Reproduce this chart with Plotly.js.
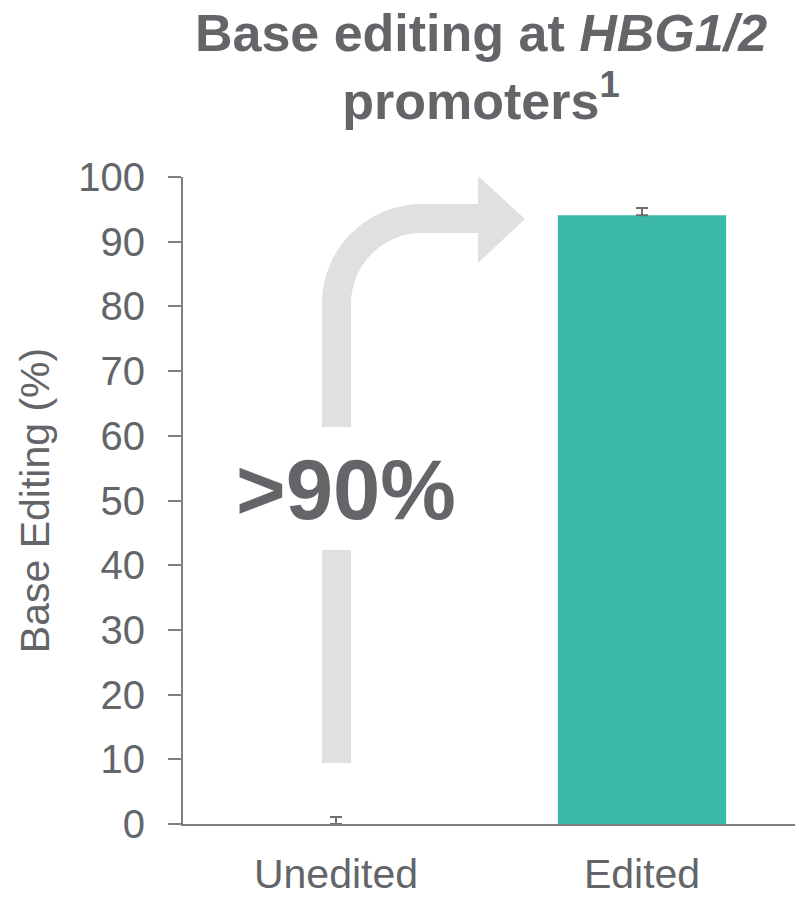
<!DOCTYPE html>
<html>
<head>
<meta charset="utf-8">
<script src="https://cdn.plot.ly/plotly-3.0.1.min.js"></script>
<style>html,body{margin:0;padding:0;background:#fff;}#chart{width:799px;height:899px;}</style>
</head>
<body>
<div id="chart"></div>
<script>
// ---- data ----
var categories = ["Unedited", "Edited"];
var editingPct = [0, 94.1];
var errorUp = [1.1, 1.1];
var yTickVals = [0, 10, 20, 30, 40, 50, 60, 70, 80, 90, 100];
var yTickText = ["0", "10", "20", "30", "40", "50", "60", "70", "80", "90", "100"];
var calloutText = ">90%";

// ---- layout geometry (pixels) ----
var W = 799, H = 899;
var M = {l: 183, r: 4, t: 177, b: 75};
var plotW = W - M.l - M.r, plotH = H - M.t - M.b;
function px(x) { return (x - M.l) / plotW; }
function py(y) { return (H - M.b - y) / plotH; }
function P(x, y) { return px(x).toFixed(5) + "," + py(y).toFixed(5); }

// decorative bent arrow (upper part with curve and head)
var k = 0.5523;
var cx = 422, cy = 304, rO = 100, rI = 71;
var upperPath = "M" + P(322, 427) +
  " L" + P(322, cy) +
  " C" + P(322, cy - rO * k) + " " + P(cx - rO * k, cy - rO) + " " + P(cx, cy - rO) +
  " L" + P(478, cy - rO) +
  " L" + P(478, 176) +
  " L" + P(525, 219) +
  " L" + P(478, 263) +
  " L" + P(478, cy - rI) +
  " L" + P(cx, cy - rI) +
  " C" + P(cx - rI * k, cy - rI) + " " + P(351, cy - rI * k) + " " + P(351, cy) +
  " L" + P(351, 427) + " Z";
var lowerPath = "M" + P(322, 550) + " L" + P(351, 550) + " L" + P(351, 763) + " L" + P(322, 763) + " Z";

var gray = "#636569";
var fontFam = "Liberation Sans, Arial, sans-serif";

var trace = {
  type: "bar",
  x: categories,
  y: editingPct,
  marker: {color: "#3ab8a8", line: {width: 0}},
  width: 0.55,
  error_y: {type: "data", symmetric: false, array: errorUp, arrayminus: [0, 0],
            color: "#6d6e71", thickness: 2, width: 6},
  hoverinfo: "x+y"
};

var layout = {
  width: W, height: H,
  margin: M,
  paper_bgcolor: "#ffffff",
  plot_bgcolor: "#ffffff",
  showlegend: false,
  font: {family: fontFam, color: gray},
  title: {
    text: "Base editing at <i>HBG1/2</i><br>promoters<sup>1</sup>",
    font: {family: fontFam, size: 52, color: gray, weight: "bold"},
    x: 0.602, xref: "container", xanchor: "center",
    y: 0.943, yref: "container", yanchor: "top"
  },
  xaxis: {
    type: "category",
    range: [-0.5, 1.5],
    showline: true, linecolor: "#7f7f7f", linewidth: 2,
    ticks: "", showgrid: false, zeroline: false,
    tickfont: {family: fontFam, size: 41, color: gray},
    ticklabelstandoff: 13,
    fixedrange: true
  },
  yaxis: {
    range: [0, 100],
    tickvals: yTickVals, ticktext: yTickText,
    showline: true, linecolor: "#7f7f7f", linewidth: 2,
    ticks: "outside", ticklen: 13, tickwidth: 2, tickcolor: "#7f7f7f",
    showgrid: false, zeroline: false,
    tickfont: {family: fontFam, size: 40, color: gray},
    ticklabelstandoff: 15,
    title: {text: "Base Editing (%)", font: {family: fontFam, size: 41, color: gray}, standoff: 16},
    automargin: false,
    fixedrange: true
  },
  shapes: [
    {type: "path", xref: "paper", yref: "paper", path: upperPath, fillcolor: "#e0e0e0", line: {width: 0}, layer: "below"},
    {type: "path", xref: "paper", yref: "paper", path: lowerPath, fillcolor: "#e0e0e0", line: {width: 0}, layer: "below"}
  ],
  annotations: [
    {text: "<b>" + calloutText + "</b>", xref: "paper", yref: "paper", x: px(346), y: py(490),
     xanchor: "center", yanchor: "middle", showarrow: false,
     font: {family: fontFam, size: 85, color: gray}}
  ]
};

Plotly.newPlot("chart", [trace], layout, {displayModeBar: false, staticPlot: true});
</script>
</body>
</html>
